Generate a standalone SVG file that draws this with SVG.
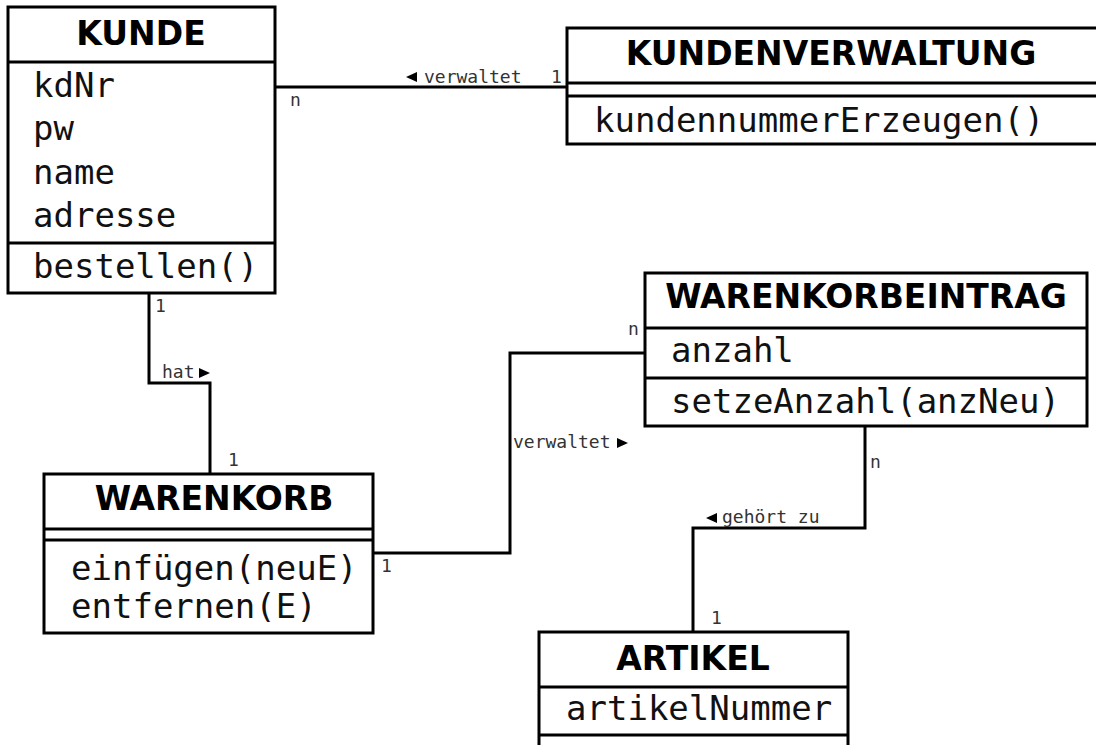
<svg xmlns="http://www.w3.org/2000/svg" width="1096" height="745" viewBox="0 0 1096 745">
<style>
.box{fill:#fff;stroke:#000;stroke-width:3}
.sep{stroke:#000;stroke-width:3}
.title{font-family:"DejaVu Sans",sans-serif;font-weight:bold;font-size:33px;fill:#000;text-anchor:middle}
.mem{font-family:"DejaVu Sans Mono",monospace;font-size:34px;fill:#111}
.lbl{font-family:"DejaVu Sans Mono",monospace;font-size:18px;fill:#333}
.con{fill:none;stroke:#000;stroke-width:3}
.tri{fill:#000}
</style>
<rect width="1096" height="745" fill="#fff"/>
<g id="connectors">
<path class="con" d="M275,87 H568"/>
<path class="con" d="M149,293 V383 H210 V474"/>
<path class="con" d="M373,553 H510 V353 H645"/>
<path class="con" d="M865,426 V528 H693 V632"/>
<polygon class="tri" points="406,77 417,72 417,82"/>
<text class="lbl" x="424" y="83">verwaltet</text>
<text class="lbl" x="551" y="83">1</text>
<text class="lbl" x="290" y="106">n</text>
<text class="lbl" x="155" y="312">1</text>
<text class="lbl" x="162" y="378">hat</text>
<polygon class="tri" points="199,368 210,373 199,378"/>
<text class="lbl" x="228" y="466">1</text>
<text class="lbl" x="381" y="572">1</text>
<text class="lbl" x="513" y="448">verwaltet</text>
<polygon class="tri" points="617,438 628,443 617,448"/>
<text class="lbl" x="628" y="335">n</text>
<text class="lbl" x="870" y="468">n</text>
<polygon class="tri" points="706,518 717,513 717,523"/>
<text class="lbl" x="722" y="523">gehört zu</text>
<text class="lbl" x="711" y="624">1</text>
</g>
<g id="kunde">
<rect class="box" x="8" y="7" width="267" height="286"/>
<line class="sep" x1="8" y1="62" x2="275" y2="62"/>
<line class="sep" x1="8" y1="243" x2="275" y2="243"/>
<text class="title" x="141" y="45">KUNDE</text>
<text class="mem" x="33" y="97">kdNr</text>
<text class="mem" x="33" y="140">pw</text>
<text class="mem" x="33" y="184">name</text>
<text class="mem" x="33" y="227">adresse</text>
<text class="mem" x="33" y="278">bestellen()</text>
</g>
<g id="kundenverwaltung">
<rect class="box" x="567" y="28" width="540" height="116"/>
<line class="sep" x1="567" y1="83" x2="1100" y2="83"/>
<line class="sep" x1="567" y1="96" x2="1100" y2="96"/>
<text class="title" x="831" y="65">KUNDENVERWALTUNG</text>
<text class="mem" x="594" y="132">kundennummerErzeugen()</text>
</g>
<g id="warenkorbeintrag">
<rect class="box" x="645" y="273" width="442" height="153"/>
<line class="sep" x1="645" y1="328" x2="1087" y2="328"/>
<line class="sep" x1="645" y1="378" x2="1087" y2="378"/>
<text class="title" x="866" y="308">WARENKORBEINTRAG</text>
<text class="mem" x="671" y="362">anzahl</text>
<text class="mem" x="671" y="413">setzeAnzahl(anzNeu)</text>
</g>
<g id="warenkorb">
<rect class="box" x="44" y="474" width="329" height="159"/>
<line class="sep" x1="44" y1="529" x2="373" y2="529"/>
<line class="sep" x1="44" y1="540" x2="373" y2="540"/>
<text class="title" x="214" y="510">WARENKORB</text>
<text class="mem" x="71" y="580">einfügen(neuE)</text>
<text class="mem" x="71" y="618">entfernen(E)</text>
</g>
<g id="artikel">
<rect class="box" x="539" y="632" width="309" height="130"/>
<line class="sep" x1="539" y1="687" x2="848" y2="687"/>
<line class="sep" x1="539" y1="735" x2="848" y2="735"/>
<text class="title" x="693" y="670">ARTIKEL</text>
<text class="mem" x="566" y="720">artikelNummer</text>
</g>
</svg>
